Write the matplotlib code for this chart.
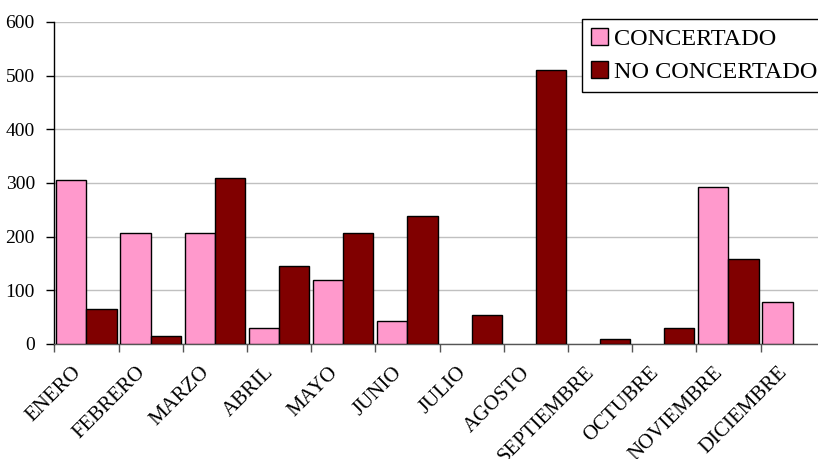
import matplotlib
matplotlib.use("Agg")
import matplotlib.pyplot as plt
import numpy as np

months = ["ENERO", "FEBRERO", "MARZO", "ABRIL", "MAYO", "JUNIO", "JULIO",
          "AGOSTO", "SEPTIEMBRE", "OCTUBRE", "NOVIEMBRE", "DICIEMBRE"]
concertado = [305, 206, 206, 29, 119, 42, 0, 0, 0, 0, 292, 78]
no_concertado = [65, 15, 310, 146, 206, 239, 54, 511, 9, 30, 159, 0]
series_labels = ["CONCERTADO", "NO CONCERTADO"]
yticks = [0, 100, 200, 300, 400, 500, 600]

plt.rcParams['font.family'] = ['Liberation Serif', 'DejaVu Serif']

fig = plt.figure(figsize=(8.18, 4.59), dpi=100)
ax = fig.add_axes([54.3/818, 1 - 344/459, 770.4/818, 322/459])

x = np.arange(len(months))
w = 0.47
b1 = ax.bar(x - w/2, concertado, width=w, color="#FF99CC", edgecolor="black",
            linewidth=1.0, label=series_labels[0], zorder=3)
b2 = ax.bar(x + w/2, no_concertado, width=w, color="#800000", edgecolor="black",
            linewidth=1.0, label=series_labels[1], zorder=3)
for r in list(b1) + list(b2):
    if r.get_height() == 0:
        r.set_visible(False)

ax.set_xlim(-0.5, len(months) - 0.5)
ax.set_ylim(0, 600)
ax.set_yticks(yticks)
ax.set_yticklabels([str(v) for v in yticks], fontsize=14)
ax.yaxis.grid(True, color="#c0c0c0", linewidth=1.0, zorder=0)
ax.set_axisbelow(True)

# label anchors sit slightly left of category centres (as in the reference)
ax.set_xticks(x - 0.13)
ax.set_xticklabels(months, fontsize=15, rotation=45, ha="right", va="center",
                   rotation_mode="anchor")
ax.set_xticks(x - 0.5, minor=True)
ax.tick_params(axis="x", which="major", length=0, pad=18.5)
ax.tick_params(axis="x", which="minor", length=6, width=1, color="#555555", direction="out")
ax.tick_params(axis="y", length=6, width=1, direction="out", pad=8)

for s in ["top", "right"]:
    ax.spines[s].set_visible(False)
ax.spines["left"].set_color("black")
ax.spines["bottom"].set_color("#555555")
ax.spines["left"].set_linewidth(1)
ax.spines["bottom"].set_linewidth(1)

leg = fig.legend(loc="upper left", bbox_to_anchor=(582/818, 1 - 19/459),
                 fontsize=17.5, frameon=True, fancybox=False, shadow=False,
                 handlelength=0.7, handleheight=0.7, handletextpad=0.25,
                 labelspacing=0.48, borderpad=0.36, borderaxespad=0)
leg.get_frame().set_edgecolor("black")
leg.get_frame().set_linewidth(1.0)
leg.get_frame().set_alpha(1)

fig.savefig("out.png", dpi=100)
